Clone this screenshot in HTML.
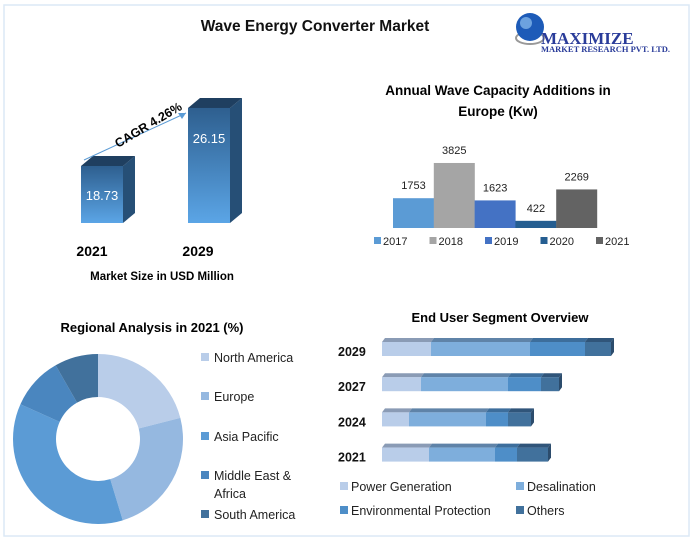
<!DOCTYPE html>
<html><head><meta charset="utf-8"><style>
body{margin:0;width:693px;height:541px;background:#fff;font-family:"Liberation Sans",sans-serif;overflow:hidden}
svg{display:block}
</style></head><body>
<svg width="693" height="541">
<rect x="4" y="5" width="685" height="531" fill="#fff" stroke="#dce9f5" stroke-width="1.5"/>
<text x="315" y="31" text-anchor="middle" font-size="15.5" font-weight="bold" fill="#111">Wave Energy Converter Market</text>
<g>
<ellipse cx="530" cy="38" rx="14" ry="6" fill="none" stroke="#999" stroke-width="2"/>
<circle cx="530" cy="27" r="14" fill="#1d5bb8"/><circle cx="526" cy="23" r="6" fill="#8ec0f0" opacity=".7"/>
<text x="541" y="44" font-family="Liberation Serif,serif" font-size="17" font-weight="bold" fill="#2a3c9a">MAXIMIZE</text>
<text x="541" y="52" font-family="Liberation Serif,serif" font-size="8.5" font-weight="bold" fill="#2a3c9a">MARKET RESEARCH PVT. LTD.</text>
</g>
<g id="mkt"></g>
<text x="92" y="256" text-anchor="middle" font-size="14" font-weight="bold">2021</text>
<text x="198" y="256" text-anchor="middle" font-size="14" font-weight="bold">2029</text>
<text x="162" y="280" text-anchor="middle" font-size="11.5" font-weight="bold">Market Size in USD Million</text>
<line x1="84" y1="160" x2="186" y2="113" stroke="#5b9bd5" stroke-width="1"/>
<polygon points="186,113 178,113 182,119" fill="#5b9bd5"/>
<text x="0" y="0" transform="translate(118,148) rotate(-31)" font-size="12.5" font-weight="bold">CAGR 4.26%</text>
<text x="498" y="95" text-anchor="middle" font-size="13.5" font-weight="bold">Annual Wave Capacity Additions in</text>
<text x="498" y="116" text-anchor="middle" font-size="13.5" font-weight="bold">Europe (Kw)</text>
<g id="eu"></g>
<text x="152" y="332" text-anchor="middle" font-size="13" font-weight="bold">Regional Analysis in 2021 (%)</text>
<g id="donut"></g>
<text x="500" y="322" text-anchor="middle" font-size="13" font-weight="bold">End User Segment Overview</text>
<g id="seg"></g>
</svg>
<script>
const NS='http://www.w3.org/2000/svg';
function mk(p,t,a){const e=document.createElementNS(NS,t);for(const k in a)e.setAttribute(k,a[k]);p.appendChild(e);return e;}
// Market size
const mktYears=['2021','2029'];
const mktValues=[18.73,26.15];
const mkt=document.getElementById('mkt');
const defs=mk(mkt,'defs',{});
const lg=mk(defs,'linearGradient',{id:'bg',x1:0,y1:0,x2:0,y2:1});
mk(lg,'stop',{offset:0,'stop-color':'#2e5f8f'});mk(lg,'stop',{offset:1,'stop-color':'#5ba5e6'});
const mBase=223,mK=7.82,mOff=11.44;
mktValues.forEach((v,i)=>{
 const x=81+i*107,w=42,h=(v-mOff)*mK,y=mBase-h,d=12;
 const s=mk(mkt,'polygon',{points:`${x+w},${y} ${x+w+d},${y-10} ${x+w+d},${mBase-10} ${x+w},${mBase}`,fill:'#264f76'});
 
 const t=mk(mkt,'polygon',{points:`${x},${y} ${x+d},${y-10} ${x+w+d},${y-10} ${x+w},${y}`,fill:'#1f3f60'});
 
 const r=mk(mkt,'rect',{x:x,y:y,width:w,height:h,fill:'url(#bg)'});
 
 const tx=mk(mkt,'text',{x:x+w/2,y:y+Math.min(h*0.6,35),'text-anchor':'middle','font-size':13,fill:'#fff'});tx.textContent=v.toFixed(2);
 
});
// Europe
const euYears=['2017','2018','2019','2020','2021'];
const euValues=[1753,3825,1623,422,2269];
const euColors=['#5b9bd5','#a5a5a5','#4472c4','#255e91','#636363'];
const eu=document.getElementById('eu');
const eBase=228,eK=0.017;
euValues.forEach((v,i)=>{
 const x=393+i*40.8,h=v*eK;
 const r=mk(eu,'rect',{x:x,y:eBase-h,width:41,height:h,fill:euColors[i]});
 
 const t=mk(eu,'text',{x:x+20.5,y:eBase-h-9,'text-anchor':'middle','font-size':11,fill:'#222'});t.textContent=v;
 
 const lr=mk(eu,'rect',{x:374+i*55.5,y:237,width:7,height:7,fill:euColors[i]});
 
 const lt=mk(eu,'text',{x:383+i*55.5,y:245,'font-size':11,fill:'#222'});lt.textContent=euYears[i];
 
});
// Donut
const regions=['North America','Europe','Asia Pacific','Middle East &','South America'];
const regionShares=[21,24.3,36.4,10,8.3];
const regionColors=['#b9cde9','#95b8e0','#5b9bd5','#4a86bf','#41719c'];
const dn=document.getElementById('donut');
const cx=98,cy=439,R=85,r0=42;
let a=0;const tot=regionShares.reduce((s,v)=>s+v,0);
function pt(rad,ang){const t=ang/tot*2*Math.PI;return [cx+rad*Math.sin(t),cy-rad*Math.cos(t)];}
regionShares.forEach((v,i)=>{
 const a1=a+v,lf=v/tot>0.5?1:0;
 const [x1,y1]=pt(R,a),[x2,y2]=pt(R,a1),[x3,y3]=pt(r0,a1),[x4,y4]=pt(r0,a);
 const p=mk(dn,'path',{d:`M${x1},${y1}A${R},${R} 0 ${lf} 1 ${x2},${y2}L${x3},${y3}A${r0},${r0} 0 ${lf} 0 ${x4},${y4}Z`,fill:regionColors[i]});
 
 a=a1;
 const ly=[362,401,441,480,519][i];
 const lr=mk(dn,'rect',{x:201,y:ly-9,width:8,height:8,fill:regionColors[i]});
 
 const lt=mk(dn,'text',{x:214,y:ly,'font-size':12.5,fill:'#222'});lt.textContent=regions[i];
 
});
const ex=mk(dn,'text',{x:214,y:498,'font-size':12.5,fill:'#222'});ex.textContent='Africa';

// End user segments
const segYears=['2029','2027','2024','2021'];
const segPower=[49,39,27,47];
const segDesal=[99,87,77,66];
const segEnv=[55,33,22,22];
const segOther=[26,18,23,31];
const segNames=['Power Generation','Desalination','Environmental Protection','Others'];
const segColors=['#b9cde9','#7eaedc','#4e8ec8','#41719c'];
const segTops=['#8a9bb5','#5f83a8','#3d6e9c','#30557a'];
const sg=document.getElementById('seg');
const series=[segPower,segDesal,segEnv,segOther];
segYears.forEach((yr,j)=>{
 const y=342+j*35.2;let x=382;
 series.forEach((s,k)=>{
  const w=s[j];
  const tp=mk(sg,'polygon',{points:`${x},${y} ${x+3},${y-4} ${x+w+3},${y-4} ${x+w},${y}`,fill:segTops[k]});
  
  const r=mk(sg,'rect',{x:x,y:y,width:w,height:14,fill:segColors[k]});
  
  x+=w;
 });
 const sd=mk(sg,'polygon',{points:`${x},${y} ${x+3},${y-4} ${x+3},${y+10} ${x},${y+14}`,fill:'#2c4c6c'});
 
 const t=mk(sg,'text',{x:338,y:y+14,'font-size':12.5,'font-weight':'bold',fill:'#111'});t.textContent=yr;
 
});
segNames.forEach((n,k)=>{
 const x=k%2?516:340,y=k<2?491:515;
 const r=mk(sg,'rect',{x:x,y:y-9,width:8,height:8,fill:segColors[k]});
 
 const t=mk(sg,'text',{x:x+11,y:y,'font-size':12.5,fill:'#222'});t.textContent=n;
 
});
</script>
</body></html>
